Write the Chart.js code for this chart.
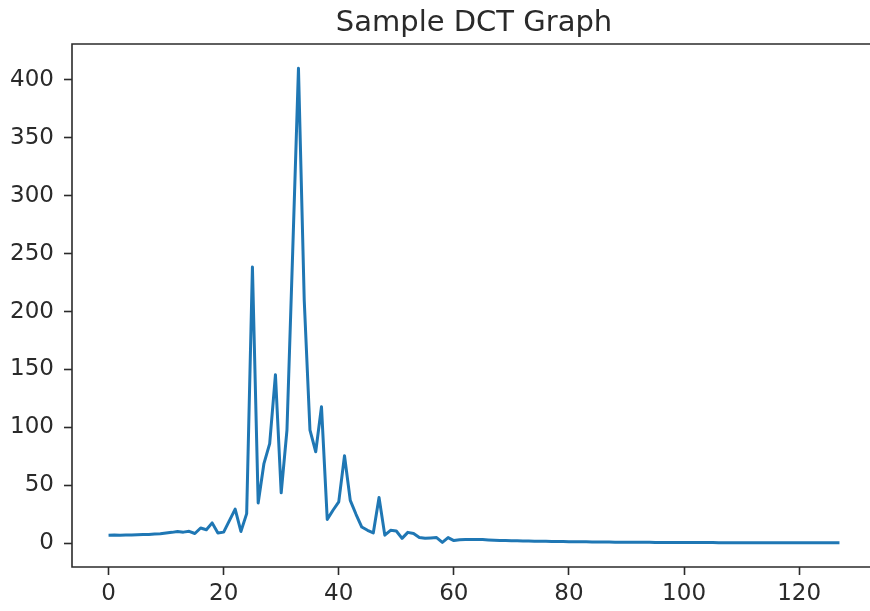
<!DOCTYPE html>
<html>
<head>
<meta charset="utf-8">
<title>Sample DCT Graph</title>
<script src="https://cdn.jsdelivr.net/npm/chart.js@4.4.1/dist/chart.umd.min.js"></script>
<style>
    html, body { margin: 0; padding: 0; background: #fff; overflow: hidden; }
    canvas { display: block; }
</style>
</head>
<body>
<canvas id="chart" width="890" height="611"></canvas>
<script>
// DCT coefficient magnitudes, sample 0..127
const dctValues = [
    7.0, 7.1, 7.0, 7.2, 7.1, 7.3, 7.5, 7.6, 8.0, 8.3,
    8.9, 9.4, 10.1, 9.6, 10.3, 8.4, 13.2, 11.7, 17.6, 8.8,
    9.6, 19.5, 29.5, 10.2, 25.6, 238.5, 34.8, 68.8, 86.0, 145.5,
    43.5, 97.6, 252.0, 410.0, 210.0, 97.6, 79.0, 117.8, 20.6, 28.5,
    35.7, 75.5, 37.0, 25.0, 14.0, 11.2, 8.9, 39.5, 7.0, 11.2,
    10.6, 4.2, 9.4, 8.4, 5.0, 4.3, 4.6, 4.9, 0.8, 4.9,
    2.3, 3.1, 3.2, 3.3, 3.3, 3.2, 2.9, 2.6, 2.4, 2.3,
    2.2, 2.1, 2.0, 1.9, 1.8, 1.8, 1.7, 1.6, 1.5, 1.5,
    1.4, 1.3, 1.3, 1.2, 1.1, 1.1, 1.0, 1.0, 0.9, 0.9,
    0.9, 0.8, 0.8, 0.8, 0.8, 0.7, 0.7, 0.7, 0.7, 0.7,
    0.6, 0.6, 0.6, 0.6, 0.6, 0.6, 0.5, 0.5, 0.5, 0.5,
    0.5, 0.5, 0.5, 0.5, 0.5, 0.5, 0.4, 0.4, 0.4, 0.4,
    0.4, 0.4, 0.4, 0.4, 0.4, 0.4, 0.4, 0.4
];

// tick labels
const xTickValues = [0, 20, 40, 60, 80, 100, 120];
const yTickValues = [0, 50, 100, 150, 200, 250, 300, 350, 400];

const chartTitle = 'Sample DCT Graph';

const inkColor = '#2a2a2a';
const spineColor = '#2b2b2b';

// points for the linear x axis
const points = dctValues.map((v, i) => ({x: i, y: v}));

// matplotlib style spines; the right one sits past the window edge
const spinePlugin = {
    id: 'spines',
    afterDraw(chart) {
        const a = chart.chartArea;
        const ctx = chart.ctx;
        const right = Math.max(a.right, chart.width);
        ctx.save();
        ctx.strokeStyle = spineColor;
        ctx.lineWidth = 1.6;
        ctx.beginPath();
        ctx.moveTo(right, a.top);
        ctx.lineTo(a.left, a.top);
        ctx.lineTo(a.left, a.bottom);
        ctx.lineTo(right, a.bottom);
        ctx.stroke();
        ctx.restore();
    }
};

new Chart(document.getElementById('chart').getContext('2d'), {
    type: 'line',
    data: {
        datasets: [
            {
                label: 'DCT',
                data: points,
                borderColor: '#1f77b4',
                borderWidth: 3,
                pointRadius: 0,
                tension: 0,
                fill: false,
                borderJoinStyle: 'round',
            },
        ],
    },
    options: {
        responsive: false,
        animation: false,
        layout: {
            padding: {left: 0, right: 14, top: 0, bottom: 0}
        },
        plugins: {
            legend: {display: false},
            tooltip: {enabled: false},
            title: {
                display: true,
                text: chartTitle,
                fullSize: false,
                color: inkColor,
                font: {family: 'DejaVu Sans', size: 29, weight: 'normal', lineHeight: 1.2},
                padding: {top: 6, bottom: 3.2},
            },
        },
        scales: {
            x: {
                type: 'linear',
                min: -6.35,
                max: 133.35,
                afterBuildTicks: (scale) => {
                    scale.ticks = xTickValues.map(v => ({value: v}));
                },
                afterFit: (scale) => {
                    scale.height = 44;
                    // ticks are not at the edges, no label overflow padding needed
                    scale.paddingLeft = 0;
                    scale.paddingRight = 0;
                },
                grid: {
                    drawOnChartArea: false,
                    drawTicks: true,
                    tickLength: 8,
                    tickColor: spineColor,
                    tickWidth: 1.6,
                },
                border: {display: false},
                ticks: {
                    color: inkColor,
                    padding: 5,
                    maxRotation: 0,
                    autoSkip: false,
                    font: {family: 'DejaVu Sans', size: 23},
                },
            },
            y: {
                type: 'linear',
                min: -20.5,
                max: 431,
                afterBuildTicks: (scale) => {
                    scale.ticks = yTickValues.map(v => ({value: v}));
                },
                afterFit: (scale) => {
                    scale.width = 72;
                },
                grid: {
                    drawOnChartArea: false,
                    drawTicks: true,
                    tickLength: 8,
                    tickColor: spineColor,
                    tickWidth: 1.6,
                },
                border: {display: false},
                ticks: {
                    color: inkColor,
                    padding: 10,
                    autoSkip: false,
                    font: {family: 'DejaVu Sans', size: 23},
                },
            },
        },
    },
    plugins: [spinePlugin],
});
</script>
</body>
</html>
